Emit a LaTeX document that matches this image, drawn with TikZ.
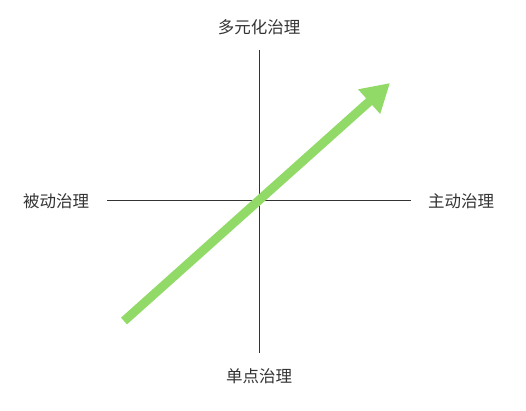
\documentclass[tikz,border=0pt]{standalone}
\usepackage{fontspec}
\setmainfont{Noto Sans CJK SC}
\usetikzlibrary{arrows.meta}
\definecolor{txt}{HTML}{333333}
\definecolor{grn}{HTML}{92DA68}
\begin{document}
\begin{tikzpicture}[x=1pt,y=-1pt,
  lbl/.style={font=\fontsize{16.5}{20}\selectfont, text=txt, inner sep=0pt},
  axis/.style={draw=txt, line width=1pt}]
\useasboundingbox (0,0) rectangle (526,411);
\node[lbl] (top) at (259,27) {多元化治理};
\node[lbl] (bot) at (259,376) {单点治理};
\node[lbl] (left) at (56,201) {被动治理};
\node[lbl] (right) at (461,201) {主动治理};
\coordinate (vt) at (259,50);
\coordinate (vb) at (259,353);
\coordinate (hl) at (107,201);
\coordinate (hr) at (411,201);
\draw[axis] (vt) -- (vb);
\draw[axis] (hl) -- (hr);
\coordinate (as) at (124,321);
\coordinate (ae) at (390,83);
\draw[grn, line width=9pt, -{Triangle[length=28pt,width=31pt]}] (as) -- (ae);
\end{tikzpicture}
\end{document}
